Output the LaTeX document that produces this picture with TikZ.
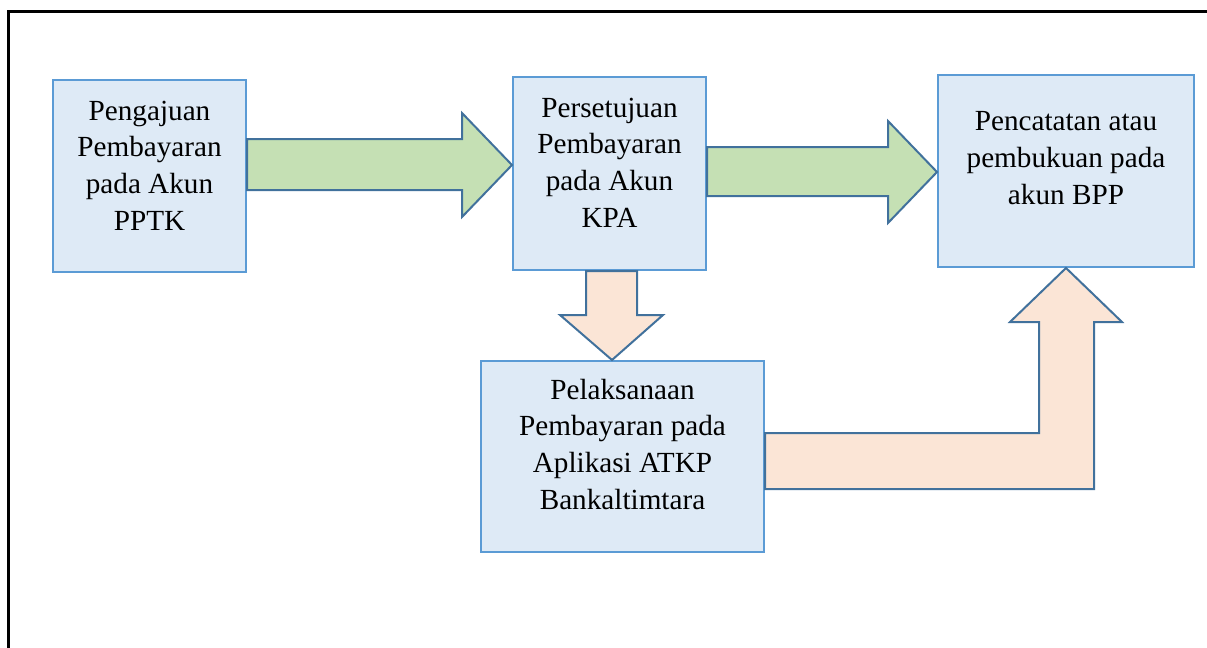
\documentclass[tikz,border=0pt]{standalone}
\usepackage{fontspec}
\setmainfont{Liberation Serif}
\definecolor{boxfill}{RGB}{222,234,246}
\definecolor{boxline}{RGB}{91,155,213}
\definecolor{greenfill}{RGB}{197,224,180}
\definecolor{peachfill}{RGB}{251,229,214}
\definecolor{arrowline}{RGB}{65,113,156}
\begin{document}
\begin{tikzpicture}[x=0.5pt,y=-0.5pt,
  box/.style={draw=boxline,fill=boxfill,line width=1pt,inner sep=0pt,rectangle},
  txt/.style={align=center,inner sep=0pt,font=\fontsize{14.6pt}{18.3pt}\selectfont},
  greenarrow/.style={draw=arrowline,fill=greenfill,line width=1pt,line join=miter},
  peacharrow/.style={draw=arrowline,fill=peachfill,line width=1pt,line join=miter}]
\useasboundingbox (0,0) rectangle (1207,648);
% frame
\draw[line width=1.5pt] (8,660) -- (8,11) -- (1215,11);
% boxes
\node[box,minimum width=96.5pt,minimum height=96pt] (a) at (149.5,176) {};
\node[box,minimum width=96.5pt,minimum height=96.5pt] (b) at (609.5,173.5) {};
\node[box,minimum width=128pt,minimum height=96pt] (c) at (1066,171) {};
\node[box,minimum width=141.5pt,minimum height=95.5pt] (d) at (622.5,456.5) {};
% texts (base anchor = baseline of the last line)
\node[txt,anchor=base] (at) at (149.5,230) {Pengajuan\\Pembayaran\\pada Akun\\PPTK};
\node[txt,anchor=base] (bt) at (609.5,227) {Persetujuan\\Pembayaran\\pada Akun\\KPA};
\node[txt,anchor=base] (ct) at (1066,204) {Pencatatan atau\\pembukuan pada\\akun BPP};
\node[txt,anchor=base] (dt) at (622.5,509) {Pelaksanaan\\Pembayaran pada\\Aplikasi ATKP\\Bankaltimtara};
% arrows
\draw[greenarrow] (a.east |- 0,139) -- (462,139) -- (462,113) -- (b.west |- 0,165)
  -- (462,217) -- (462,190) -- (a.east |- 0,190) -- cycle;
\draw[greenarrow] (b.east |- 0,147) -- (888,147) -- (888,121) -- (c.west |- 0,172)
  -- (888,223) -- (888,196) -- (b.east |- 0,196) -- cycle;
\draw[peacharrow] (b.south -| 586,0) -- (586,315) -- (560,315) -- (d.north -| 612,0)
  -- (663,315) -- (637,315) -- (b.south -| 637,0) -- cycle;
\draw[peacharrow] (d.east |- 0,433) -- (1039,433) -- (1039,322) -- (1010,322)
  -- (c.south) -- (1122,322) -- (1094,322) -- (1094,489) -- (d.east |- 0,489) -- cycle;
\end{tikzpicture}
\end{document}
